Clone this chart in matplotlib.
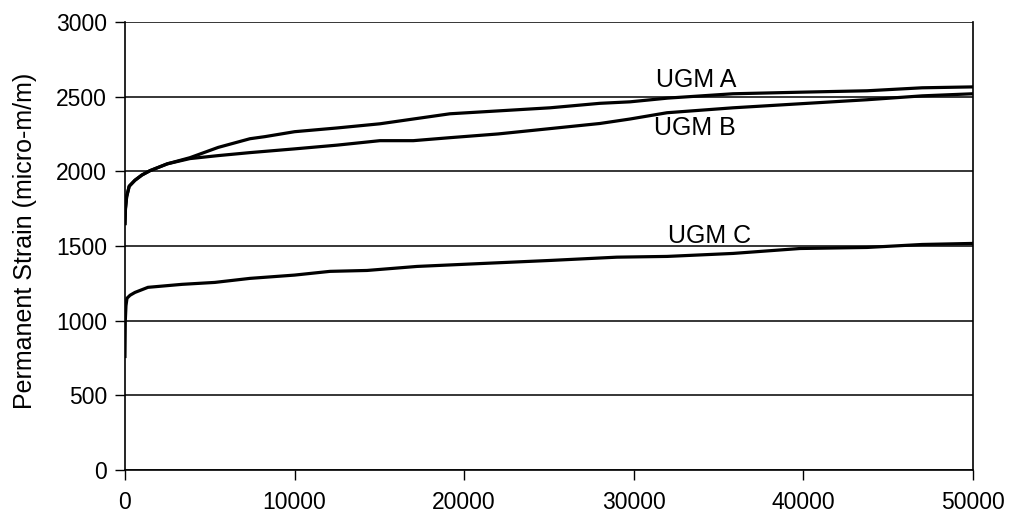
import matplotlib.pyplot as plt

plt.rcParams['font.family'] = ['Liberation Sans', 'DejaVu Sans']

# Permanent strain vs. load cycles for the three granular materials
ugm_a_x = [0, 30, 100, 250, 590, 1000, 1474, 2500, 3830, 5500, 7370, 8255, 10000,
           12500, 15035, 17000, 19160, 22110, 25060, 28000, 29780, 32000, 35850,
           40000, 43750, 47000, 50000]
ugm_a_y = [1650, 1750, 1830, 1900, 1940, 1975, 2004, 2050, 2091, 2160, 2218, 2232, 2265,
           2290, 2318, 2350, 2385, 2405, 2425, 2455, 2465, 2490, 2519,
           2530, 2539, 2559, 2565]

ugm_b_x = [0, 30, 100, 250, 590, 1000, 1474, 2500, 3830, 5500, 7370, 10000, 12500,
           15035, 17000, 19160, 22000, 25000, 28000, 29780, 31960, 35850, 39800,
           43750, 47000, 50000]
ugm_b_y = [1650, 1750, 1830, 1900, 1940, 1975, 2004, 2050, 2085, 2105, 2125, 2150, 2175,
           2205, 2205, 2225, 2250, 2285, 2320, 2350, 2392, 2425, 2452,
           2479, 2505, 2519]

ugm_c_x = [0, 20, 60, 120, 300, 590, 1356, 3360, 5300, 7370, 10000, 12090, 14270,
           17220, 21110, 25060, 29000, 31960, 35850, 39800, 43750, 47000, 50000]
ugm_c_y = [760, 1000, 1100, 1150, 1170, 1189, 1223, 1243, 1256, 1283, 1305, 1330, 1336,
           1363, 1383, 1403, 1425, 1430, 1450, 1483, 1490, 1510, 1517]

labels = ["UGM A", "UGM B", "UGM C"]
label_pos = [(33670, 2612), (33610, 2292), (34490, 1570)]

fig = plt.figure(figsize=(10.11, 5.22), dpi=100)
ax = fig.add_axes([0.1236, 0.0996, 0.8388, 0.8584])

for xs, ys in [(ugm_a_x, ugm_a_y), (ugm_b_x, ugm_b_y), (ugm_c_x, ugm_c_y)]:
    ax.plot(xs, ys, color='black', lw=2.3, zorder=3)

for text, (lx, ly) in zip(labels, label_pos):
    ax.text(lx, ly, text, fontsize=18, ha='center', va='center')

ax.set_xlim(0, 50000)
ax.set_ylim(0, 3000)
ax.set_xticks(range(0, 50001, 10000))
ax.set_yticks(range(0, 3001, 500))
ax.grid(axis='y', color='black', lw=1.1)
ax.set_axisbelow(True)
ax.tick_params(direction='out', length=7, width=1, labelsize=16.5, color='black')
ax.tick_params(axis='y', pad=6)
ax.tick_params(axis='x', pad=8)
for sp in ax.spines.values():
    sp.set_color('black')
    sp.set_linewidth(1.2)
ax.spines['top'].set_visible(False)

ax.set_ylabel("Permanent Strain (micro-m/m)", fontsize=18)
ax.yaxis.set_label_coords(-0.104, 0.511)

fig.savefig("out.png", dpi=100)
plt.close(fig)
